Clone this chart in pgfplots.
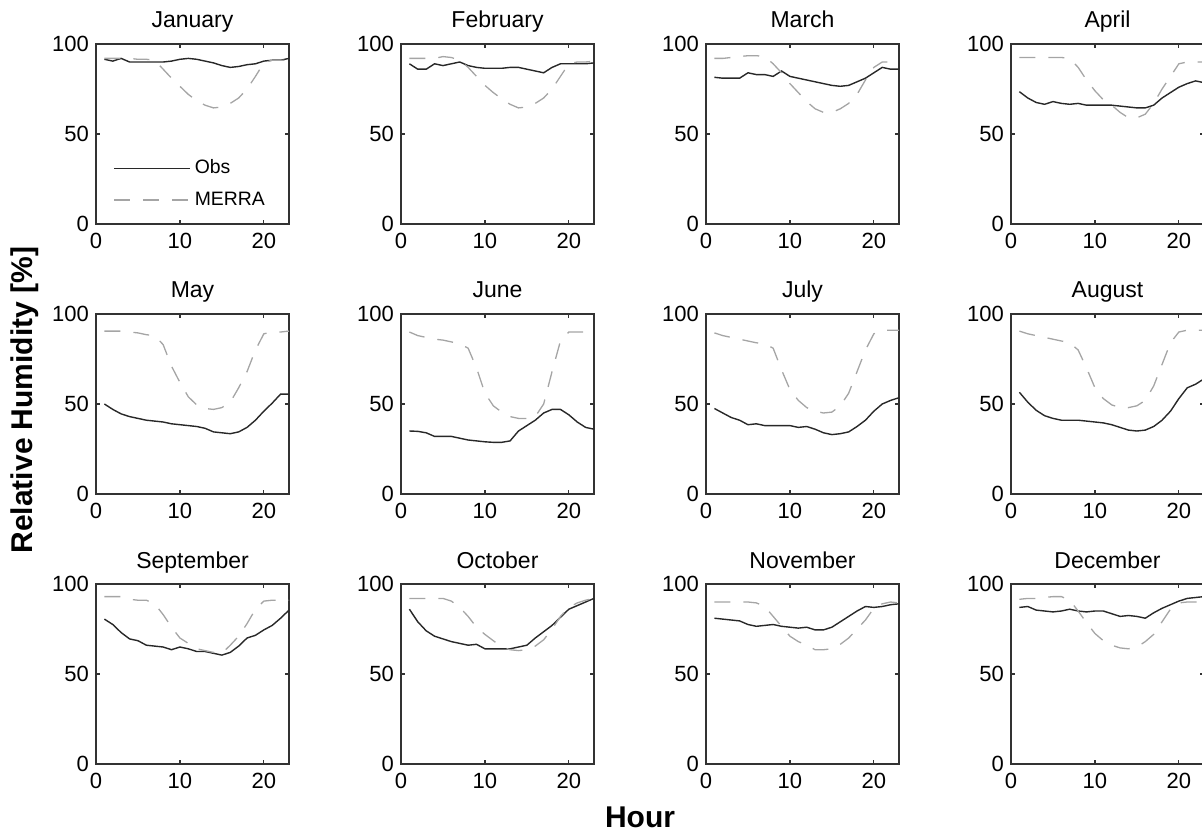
\documentclass[border=0pt]{standalone}
\usepackage{fontspec}
\setmainfont{Liberation Sans}
\usepackage{pgfplots}
\usepackage{pgfplotstable}
\pgfplotsset{compat=1.18}

\definecolor{obsc}{RGB}{40,40,40}
\definecolor{merrac}{RGB}{165,165,165}
\definecolor{axc}{RGB}{50,50,50}

% hourly mean relative humidity, one table per month
\pgfplotstableread{
h obs merra
1 91.5 92
2 90.5 92
3 92 92
4 90 92
5 90 91.5
6 90 91.5
7 90 91
8 90 86
9 90.5 81
10 91.5 76.5
11 92 72
12 91.5 68.5
13 90.5 66
14 89.5 64.5
15 88 65
16 87 67
17 87.5 70
18 88.5 75
19 89 82
20 90.5 89.5
21 91 91
22 91 91
23 92 91
}\tjan
\pgfplotstableread{
h obs merra
1 89 92
2 86 92
3 86 92
4 89 92
5 88 93
6 89 92.5
7 90 91
8 88 87
9 87 82
10 86.5 77
11 86.5 73
12 86.5 69.5
13 87 66.5
14 87 64.5
15 86 65
16 85 67
17 84 70
18 87 75
19 89 82
20 89 89
21 89 90
22 89 90
23 89.5 90.5
}\tfeb
\pgfplotstableread{
h obs merra
1 81.5 92
2 81 92
3 81 92.5
4 81 93
5 84 93.5
6 83 93.5
7 83 93
8 82 89
9 85 84
10 82 78
11 81 73
12 80 68
13 79 64
14 78 62
15 77 62
16 76.5 64
17 77 67
18 79 72
19 81 80
20 84 87
21 87 90
22 86 90
23 86 90
}\tmar
\pgfplotstableread{
h obs merra
1 73.5 92.5
2 70 92.5
3 67.5 92.5
4 66.5 92.5
5 68 92.5
6 67 92.5
7 66.5 92
8 67 87
9 66 80
10 66 74
11 66 69
12 66 66
13 65.5 62
14 65 59
15 64.5 59
16 64.5 61
17 66 67
18 70 75
19 73 82
20 76 89
21 78 90
22 79.5 90
23 78.5 90
}\tapr
\pgfplotstableread{
h obs merra
1 50 90.5
2 47 90.5
3 44.5 90.5
4 43 90
5 42 89.5
6 41 88.5
7 40.5 88
8 40 83
9 39 71
10 38.5 62
11 38 54
12 37.5 49.5
13 36.5 47.5
14 34.5 47
15 34 48
16 33.5 51
17 34.5 59
18 37 68
19 41 80
20 46 89
21 50.5 90
22 55.5 90
23 55.5 90.5
}\tmay
\pgfplotstableread{
h obs merra
1 35 90
2 34.8 88
3 34 87
4 32 86
5 32 85.5
6 32 84.5
7 31 83.5
8 30 81
9 29.5 70
10 29 56
11 28.7 49
12 28.7 45.5
13 29.5 43
14 35 42
15 38 42
16 41 43
17 45 50
18 47 68
19 47 85
20 44 90
21 40 90
22 37 90
23 36 90
}\tjun
\pgfplotstableread{
h obs merra
1 47.5 89.5
2 45 88
3 42.5 87
4 41 86
5 38.5 85
6 39 84
7 38 83.5
8 38 81
9 38 69
10 38 58
11 37 52
12 37.5 48
13 36 46
14 34 45
15 33 45.5
16 33.5 49
17 34.5 56
18 37.5 68
19 41 80
20 46 89
21 50 91
22 52 91
23 53.5 91
}\tjul
\pgfplotstableread{
h obs merra
1 56.5 90.5
2 51 89
3 46.5 88
4 43.5 87
5 42 86
6 41 85
7 41 84
8 41 80
9 40.5 70
10 40 59
11 39.5 53
12 38.5 49.5
13 37 48
14 35.5 48
15 35 49
16 35.5 52
17 37.5 60
18 41 72
19 46 84
20 53 90
21 59 91
22 61 91
23 64 91
}\taug
\pgfplotstableread{
h obs merra
1 80.5 93
2 77.5 93
3 73 93
4 69.5 91.5
5 68.5 91
6 66 91
7 65.5 89
8 65 83
9 63.5 76
10 65 70
11 64 67
12 62.5 64
13 62.5 63
14 61.5 62
15 60.5 61.5
16 62 66
17 65.5 71
18 70 78
19 71.5 86
20 74.5 90.5
21 77 91
22 81 91
23 85.5 91
}\tsep
\pgfplotstableread{
h obs merra
1 86 92
2 79 92
3 74 92
4 71 92
5 69.5 92
6 68 90.5
7 67 87
8 66 82
9 66.5 76
10 64 72
11 64 68.5
12 64 65
13 64 63.5
14 65 63
15 66 63.5
16 70 65.5
17 73.5 69
18 77 75
19 81.5 82
20 86 87
21 88 89.5
22 90 91
23 92 92
}\toct
\pgfplotstableread{
h obs merra
1 81 90
2 80.5 90
3 80 90
4 79.5 90
5 77.5 90
6 76.5 89.5
7 77 87.5
8 77.5 82
9 76.5 76.5
10 76 71
11 75.5 68
12 76 66
13 74.5 63.5
14 74.5 63.5
15 76 64
16 79 66.5
17 82 70
18 85 75
19 87.5 80
20 87 86.5
21 87.5 89
22 88.5 90
23 89 89.5
}\tnov
\pgfplotstableread{
h obs merra
1 87 91.5
2 87.5 92
3 85.5 92
4 85 92.5
5 84.5 93
6 85 93
7 86 91
8 85 85
9 84.5 78.5
10 85 72.5
11 85 68.5
12 83.5 66
13 82 64.5
14 82.5 64
15 82 65
16 81 68
17 84 72
18 86.5 79
19 88.5 86
20 90.5 89.5
21 92 90
22 92.5 90
23 93 90
}\tdec

\pgfplotsset{
  rh/.style={
    scale only axis, width=96.5pt, height=90pt, anchor=south west,
    xmin=0, xmax=23, ymin=0, ymax=100,
    xtick={0,10,20}, ytick={0,50,100},
    tick align=inside, major tick length=2pt,
    axis line style={axc, line width=0.6pt},
    every tick/.style={axc, line width=0.6pt},
    /pgf/number format/assume math mode=true,
    tick label style={font=\fontsize{11}{13}\selectfont},
    xticklabel style={yshift=-1.2pt},
    title style={at={(0.5,1)}, anchor=base, yshift=2pt,
      font=\fontsize{11.5}{14}\selectfont},
  },
  obs/.style={obsc, line width=0.7pt},
  merra/.style={merrac, line width=0.65pt, dash pattern=on 8pt off 6.5pt},
}

\newcommand{\panel}[4]{%
  \begin{axis}[rh, at={(#1,#2)}, title={#3}]
    \addplot[obs] table[x=h, y=obs] {#4};
    \addplot[merra] table[x=h, y=merra] {#4};
  \end{axis}}

\begin{document}
\begin{tikzpicture}
  \useasboundingbox (0,0) rectangle (601pt,415.5pt);

  \begin{axis}[rh, at={(48pt,303.5pt)}, title={January},
      legend image code/.code={\draw[#1] (0pt,0pt) -- (38pt,0pt);},
      legend style={draw=none, fill=none, at={(0.057,0.222)}, anchor=west,
        cells={anchor=west}, row sep=3.5pt,
        font=\fontsize{9.7}{11}\selectfont}]
    \addplot[obs] table[x=h, y=obs] {\tjan};
    \addplot[merra] table[x=h, y=merra] {\tjan};
    \legend{Obs, MERRA}
  \end{axis}
  \panel{200.5pt}{303.5pt}{February}{\tfeb}
  \panel{353pt}{303.5pt}{March}{\tmar}
  \panel{505.5pt}{303.5pt}{April}{\tapr}

  \panel{48pt}{168.5pt}{May}{\tmay}
  \panel{200.5pt}{168.5pt}{June}{\tjun}
  \panel{353pt}{168.5pt}{July}{\tjul}
  \panel{505.5pt}{168.5pt}{August}{\taug}

  \panel{48pt}{33.5pt}{September}{\tsep}
  \panel{200.5pt}{33.5pt}{October}{\toct}
  \panel{353pt}{33.5pt}{November}{\tnov}
  \panel{505.5pt}{33.5pt}{December}{\tdec}

  \node[rotate=90, anchor=base, font=\bfseries\fontsize{15}{18}\selectfont]
    at (16pt,215.5pt) {Relative Humidity [\%]};
  \node[anchor=base, font=\bfseries\fontsize{15}{18}\selectfont]
    at (320pt,2pt) {Hour};
\end{tikzpicture}
\end{document}
